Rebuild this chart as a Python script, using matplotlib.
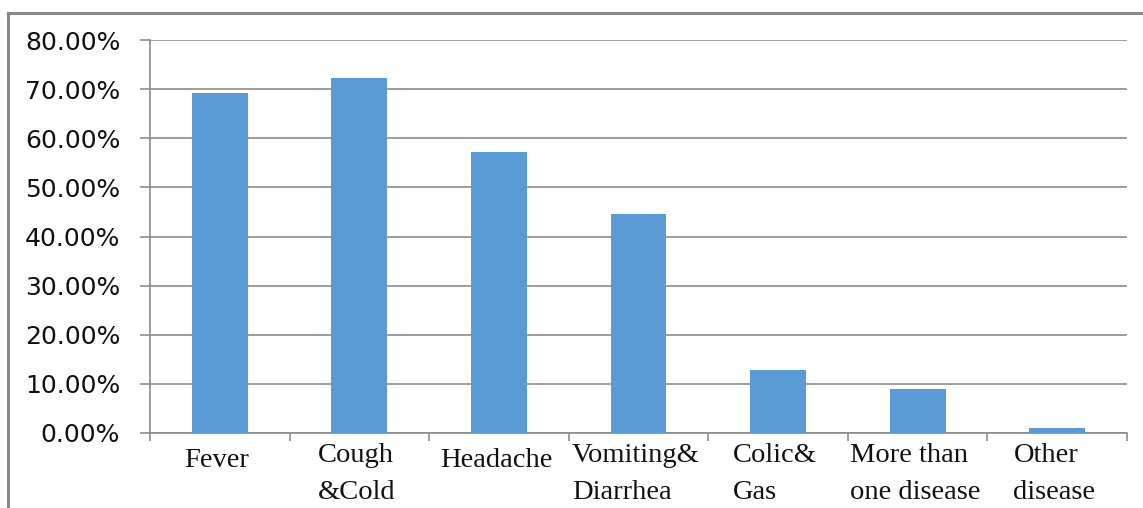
import matplotlib
matplotlib.use("Agg")
import matplotlib.pyplot as plt
from matplotlib.lines import Line2D
from matplotlib.ticker import FuncFormatter, MultipleLocator
import numpy as np

categories = ["Fever", "Cough\n&Cold", "Headache", "Vomiting&\nDiarrhea",
              "Colic&\nGas", "More than\none disease", "Other\ndisease"]
shares = [0.692, 0.723, 0.572, 0.446, 0.128, 0.090, 0.010]

bar_color = "#5B9BD5"
grid_color = "#8C8C8C"

fig = plt.figure(figsize=(11.43, 5.08), dpi=100)
ax = fig.add_axes([150 / 1143, 75 / 508, 977 / 1143, 393 / 508])

x = np.arange(len(categories))
ax.bar(x, shares, width=0.4, color=bar_color, zorder=3)

ax.set_xlim(-0.5, len(categories) - 0.5)
ax.set_ylim(0, 0.8)
ax.yaxis.set_major_locator(MultipleLocator(0.1))
ax.yaxis.set_major_formatter(FuncFormatter(lambda v, _: f"{v * 100:.2f}%"))
ax.grid(axis="y", color=grid_color, linewidth=1.2, zorder=0)

for side in ("top", "right"):
    ax.spines[side].set_visible(False)
for side in ("left", "bottom"):
    ax.spines[side].set_color(grid_color)
    ax.spines[side].set_linewidth(1.2)

ax.tick_params(axis="y", length=7.5, width=1.2, color=grid_color, pad=14,
               labelsize=18, labelcolor="#111111")
for lab in ax.get_yticklabels():
    lab.set_family("DejaVu Sans")

# Category boundary ticks below the axis
ax.set_xticks(np.arange(-0.5, len(categories)), minor=False)
ax.set_xticklabels([])
ax.tick_params(axis="x", length=5.5, width=1.2, color=grid_color)

# Category labels, wrapped like the source chart
for i, name in enumerate(categories):
    single = "\n" not in name
    ax.annotate(name, xy=(i, 0), xycoords=("data", "axes fraction"),
                xytext=(-2, -11 if single else -7), textcoords="offset points",
                ha="center", va="top", multialignment="left",
                family="Liberation Serif", fontsize=20.5, linespacing=1.62,
                color="#111111", annotation_clip=False)

# Outer chart frame (top and left edges)
fig.add_artist(Line2D([7.5 / 1143, 1], [1 - 12.5 / 508, 1 - 12.5 / 508],
                      transform=fig.transFigure, color="#8A8A8A", linewidth=2.2))
fig.add_artist(Line2D([7.5 / 1143, 7.5 / 1143], [0, 1 - 12.5 / 508],
                      transform=fig.transFigure, color="#8A8A8A", linewidth=2.2))

fig.savefig("out.png", dpi=100)
